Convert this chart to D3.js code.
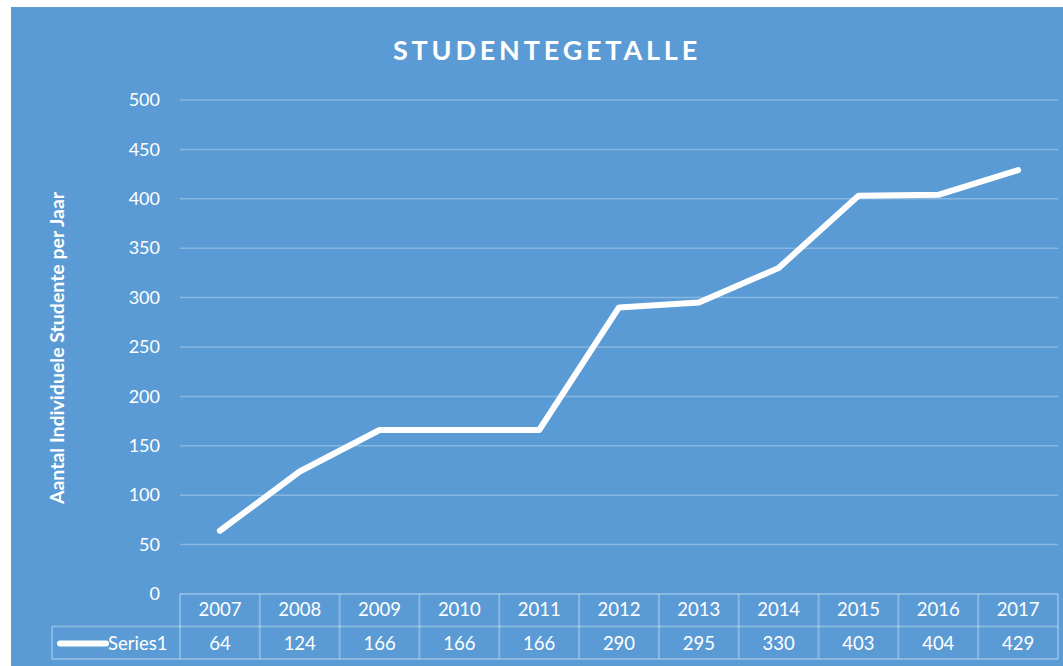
<!DOCTYPE html>
<html>
<head>
<meta charset="utf-8">
<script src="https://cdn.jsdelivr.net/npm/d3@7"></script>
<style>
body { margin: 0; background: #fff; }
text { font-family: Lato, "Open Sans", sans-serif; fill: #fff; }
</style>
</head>
<body>
<div id="chart"></div>
<script>
var years = ['2007', '2008', '2009', '2010', '2011', '2012', '2013', '2014', '2015', '2016', '2017'];
var students = [64, 124, 166, 166, 166, 290, 295, 330, 403, 404, 429];
var y_ticks = [0, 50, 100, 150, 200, 250, 300, 350, 400, 450, 500];
var series_name = 'Series1';
var title = 'STUDENTEGETALLE';
var y_label = 'Aantal Individuele Studente per Jaar';

var width = 1063, height = 666;
var plot_left = 180, plot_right = 1058, plot_top = 100, plot_bottom = 594;
var row_h = 32.5;
var grid_col = 'rgba(255,255,255,0.28)';

var svg = d3.select('#chart').append('svg')
	.attr('width', width)
	.attr('height', height);

// achtergrond
svg.append('rect')
	.attr('x', 11).attr('y', 7)
	.attr('width', width - 11).attr('height', height - 7)
	.attr('fill', '#5b9bd5');

var x_scale = d3.scaleBand()
	.domain(years)
	.range([plot_left, plot_right]);

var y_scale = d3.scaleLinear()
	.domain([0, 500])
	.range([plot_bottom, plot_top]);

// rooster
svg.selectAll('.grid')
	.data(y_ticks.filter(function(d) { return d > 0; }))
	.enter()
	.append('line')
		.attr('x1', plot_left).attr('x2', plot_right)
		.attr('y1', function(d) { return y_scale(d); })
		.attr('y2', function(d) { return y_scale(d); })
		.attr('stroke', grid_col)
		.attr('stroke-width', 1.5);

var y_axis = d3.axisLeft(y_scale).tickValues(y_ticks).tickSize(0).tickPadding(0);
var gy = svg.append('g')
	.attr('transform', 'translate(' + 160 + ',0)')
	.call(y_axis);
gy.select('.domain').remove();
gy.selectAll('text')
	.attr('font-size', 18)
	.attr('fill', '#fff')
	.style('font-family', 'Lato, sans-serif');

// titel
svg.append('text')
	.attr('x', 547).attr('y', 60)
	.attr('text-anchor', 'middle')
	.attr('font-size', 27)
	.attr('font-weight', 'bold')
	.attr('letter-spacing', 3.8)
	.text(title);

svg.append('text')
	.attr('transform', 'translate(64,' + 348 + ') rotate(-90)')
	.attr('text-anchor', 'middle')
	.attr('font-size', 19.5)
	.attr('font-weight', 'bold')
	.text(y_label);

// lijn
var line = d3.line()
	.x(function(d, i) { return x_scale(years[i]) + x_scale.bandwidth() / 2; })
	.y(function(d) { return y_scale(d); });

svg.append('path')
	.attr('d', line(students))
	.attr('fill', 'none')
	.attr('stroke', '#fff')
	.attr('stroke-width', 6)
	.attr('stroke-linejoin', 'round')
	.attr('stroke-linecap', 'round');

// datatabel
var tbl = svg.append('g');
var r1 = plot_bottom, r2 = plot_bottom + row_h, r3 = plot_bottom + 2 * row_h;
var leg_x = 52;

function hline(x1, x2, y) {
	tbl.append('line').attr('x1', x1).attr('x2', x2).attr('y1', y).attr('y2', y)
		.attr('stroke', grid_col).attr('stroke-width', 2);
}
function vline(x, y1, y2) {
	tbl.append('line').attr('x1', x).attr('x2', x).attr('y1', y1).attr('y2', y2)
		.attr('stroke', grid_col).attr('stroke-width', 2);
}
hline(plot_left, plot_right, r1);
hline(leg_x, plot_right, r2);
hline(leg_x, plot_right, r3);
vline(leg_x, r2, r3);
years.forEach(function(y) { vline(x_scale(y), r1, r3); });
vline(plot_right, r1, r3);

tbl.selectAll('.yr')
	.data(years)
	.enter()
	.append('text')
		.attr('x', function(d) { return x_scale(d) + x_scale.bandwidth() / 2; })
		.attr('y', r1 + 22)
		.attr('text-anchor', 'middle')
		.attr('font-size', 18.5)
		.text(function(d) { return d; });

tbl.selectAll('.val')
	.data(students)
	.enter()
	.append('text')
		.attr('x', function(d, i) { return x_scale(years[i]) + x_scale.bandwidth() / 2; })
		.attr('y', r2 + 23)
		.attr('text-anchor', 'middle')
		.attr('font-size', 18.5)
		.text(function(d) { return d; });

tbl.append('line')
	.attr('x1', 60).attr('x2', 106)
	.attr('y1', r2 + 17).attr('y2', r2 + 17)
	.attr('stroke', '#fff').attr('stroke-width', 6)
	.attr('stroke-linecap', 'round');
tbl.append('text')
	.attr('x', 108).attr('y', r2 + 23)
	.attr('font-size', 18.5)
	.text(series_name);
</script>
</body>
</html>
